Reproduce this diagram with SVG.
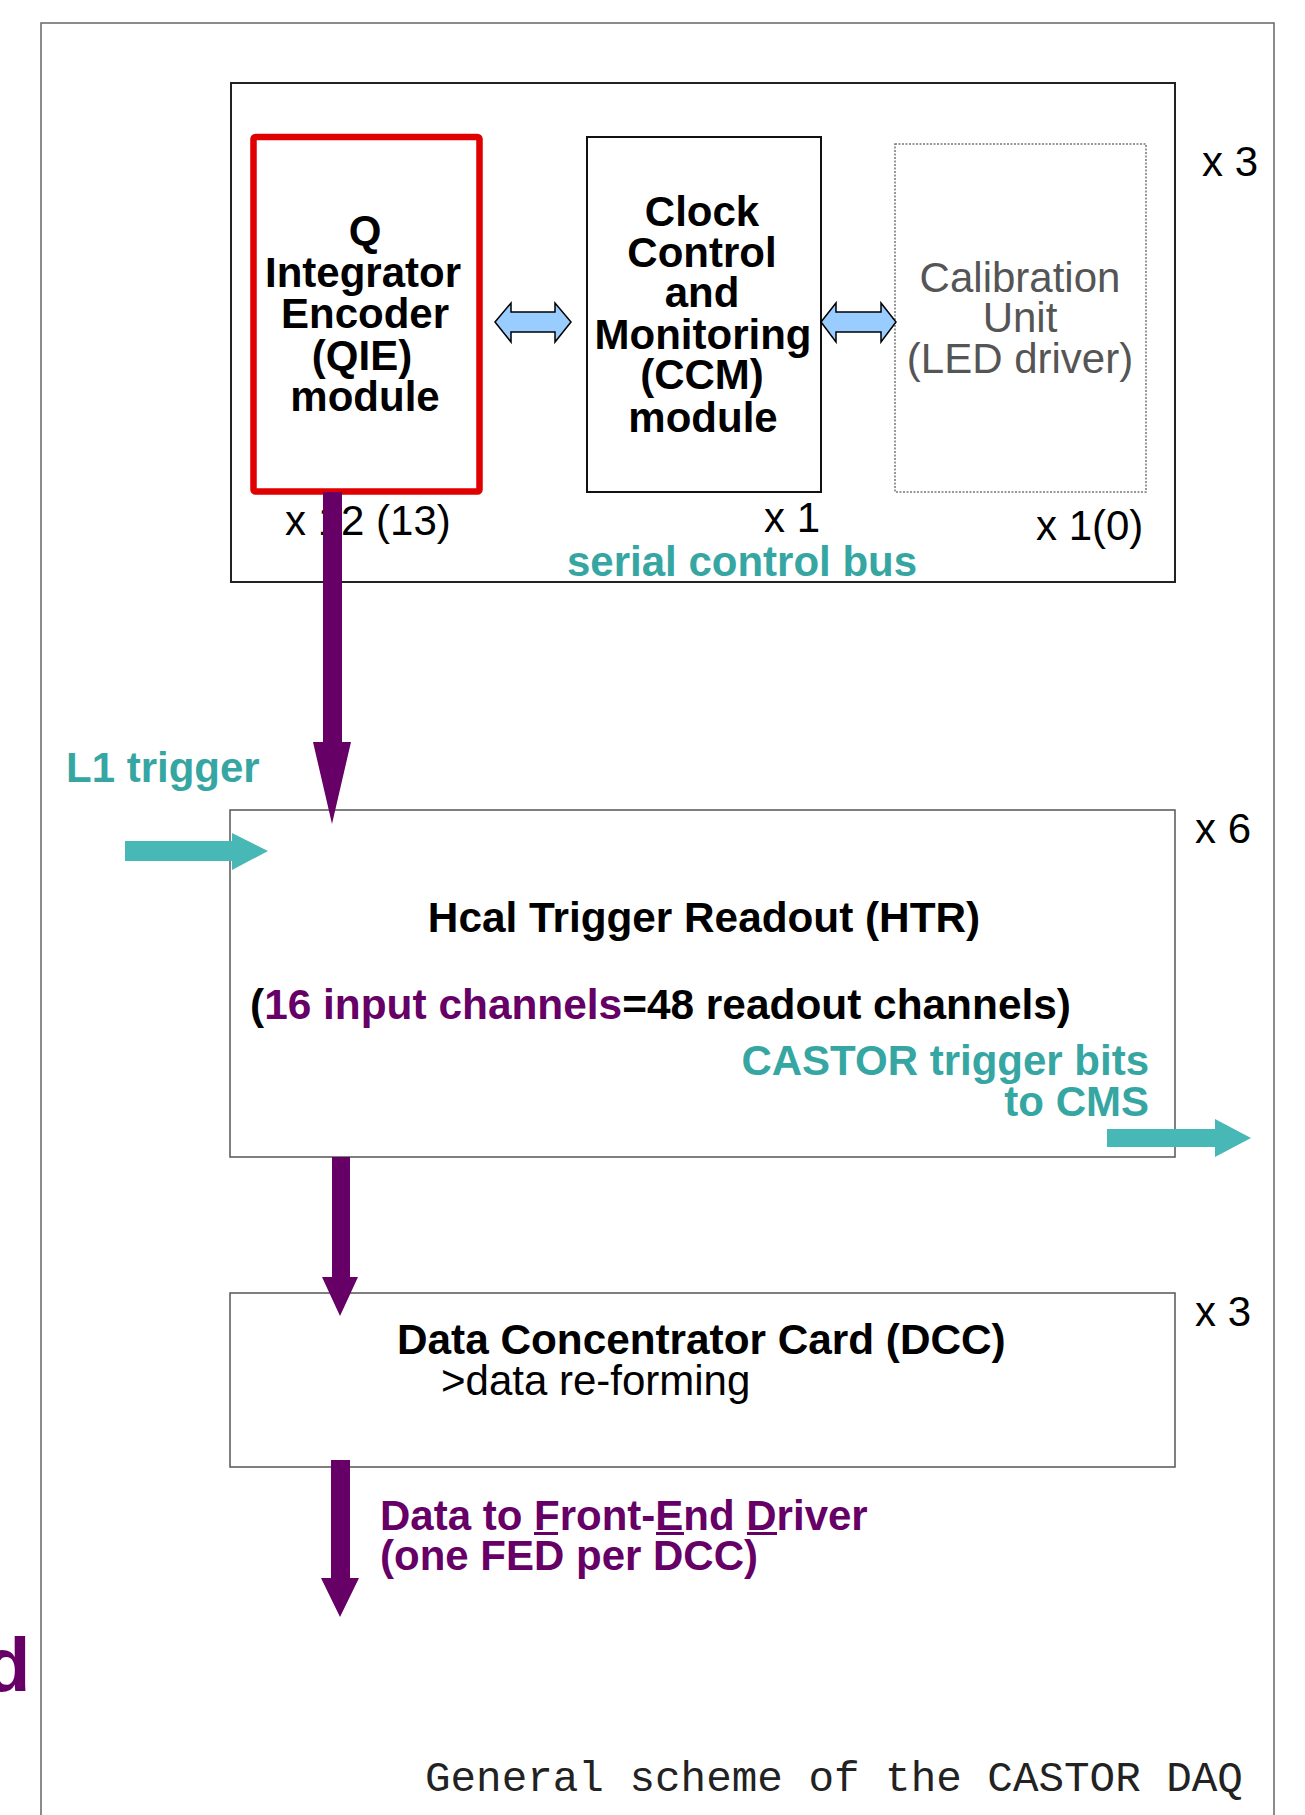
<svg xmlns="http://www.w3.org/2000/svg" width="1305" height="1815" viewBox="0 0 1305 1815">
<style>
text{font-family:"Liberation Sans",Arial,sans-serif;font-size:42px;fill:#000}
.b{font-weight:bold}
.c{text-anchor:middle}
.teal{fill:#36a6a3}
.pur{fill:#660066}
.gray{fill:#555}
.mono{font-family:"Liberation Mono","Courier New",monospace;fill:#222;font-size:42.6px}
.box{fill:#fff;stroke:#555;stroke-width:1.5}
.dbl{fill:#99ccff;stroke:#000;stroke-width:1.5;stroke-linejoin:miter}
.parrow{fill:#660066}
.tarrow{fill:#48b8b6}
.ul{fill:#660066}
</style>
<rect x="41" y="23" width="1233" height="1830" fill="#fff" stroke="#666" stroke-width="1.5"/>
<g id="frontend">
<rect x="231" y="83" width="944" height="499" fill="#fff" stroke="#222" stroke-width="2"/>
<text x="1202" y="176">x 3</text>
<text x="567" y="576" class="b teal">serial control bus</text>
</g>
<g id="qie">
<rect x="253.5" y="137" width="226" height="354.5" rx="2" fill="#fff" stroke="#e00000" stroke-width="6.5"/>
<text class="b c"><tspan x="365" y="245">Q</tspan><tspan x="363" y="287">Integrator</tspan><tspan x="365" y="328">Encoder</tspan><tspan x="362" y="370">(QIE)</tspan><tspan x="365" y="411">module</tspan></text>
<text x="285" y="535">x 12 (13)</text>
</g>
<g id="ccm">
<rect x="587" y="137" width="234" height="355" fill="#fff" stroke="#111" stroke-width="2"/>
<text class="b c"><tspan x="702" y="226">Clock</tspan><tspan x="702" y="267">Control</tspan><tspan x="702" y="307">and</tspan><tspan x="703" y="349">Monitoring</tspan><tspan x="702" y="389">(CCM)</tspan><tspan x="703" y="432">module</tspan></text>
<text x="764" y="532">x 1</text>
</g>
<g id="calib">
<rect x="895" y="144" width="251" height="348" fill="#fff" stroke="#777" stroke-width="1.5" stroke-dasharray="2 1.5"/>
<text class="c gray"><tspan x="1020" y="292">Calibration</tspan><tspan x="1020" y="332">Unit</tspan><tspan x="1020" y="373">(LED driver)</tspan></text>
<text x="1036" y="540">x 1(0)</text>
</g>
<g id="htr">
<rect class="box" x="230" y="810" width="945" height="347"/>
<text class="b c" x="704" y="932" style="font-size:42.3px">Hcal Trigger Readout (HTR)</text>
<text class="b" x="250" y="1019" style="font-size:42.4px">(<tspan class="pur">16 input channels</tspan>=48 readout channels)</text>
<text class="b teal" text-anchor="end"><tspan x="1149" y="1075">CASTOR trigger bits</tspan><tspan x="1149" y="1116">to CMS</tspan></text>
<text x="1195" y="843">x 6</text>
</g>
<g id="dcc">
<rect class="box" x="230" y="1293" width="945" height="174"/>
<text class="b" x="397" y="1354" style="font-size:42.3px">Data Concentrator Card (DCC)</text>
<text x="441" y="1395">&gt;data re-forming</text>
<text x="1195" y="1326">x 3</text>
</g>
<g id="connectors">
<polygon class="dbl" points="495,322 511,303 511,312 555,312 555,303 571,322 555,342 555,332 511,332 511,342"/>
<polygon class="dbl" points="821,322 836,303 836,312 881,312 881,303 896,322 881,342 881,332 836,332 836,342"/>
<polygon class="parrow" points="323,492 342,492 342,742 351,742 332,824 313,742 323,742"/>
<polygon class="parrow" points="332,1157 350,1157 350,1277 358,1277 340,1316 322,1277 332,1277"/>
<polygon class="parrow" points="331,1460 350,1460 350,1578 359,1578 340,1617 321,1578 331,1578"/>
<polygon class="tarrow" points="125,841 232,841 232,833 268,851 232,870 232,861 125,861"/>
<polygon class="tarrow" points="1107,1129 1215,1129 1215,1119 1251,1138 1215,1157 1215,1147 1107,1147"/>
</g>
<g id="labels">
<text x="66" y="782" class="b teal">L1 trigger</text>
<text class="b pur"><tspan x="380" y="1530">Data to Front-End Driver</tspan><tspan x="380" y="1570">(one FED per DCC)</tspan></text>
<rect class="ul" x="534" y="1532" width="24" height="3"/>
<rect class="ul" x="656" y="1532" width="28" height="3"/>
<rect class="ul" x="747" y="1532" width="30" height="3"/>
<text class="b pur" x="-16" y="1691" style="font-size:76px">d</text>
<text class="mono" x="425" y="1791">General scheme of the CASTOR DAQ</text>
</g>
</svg>
